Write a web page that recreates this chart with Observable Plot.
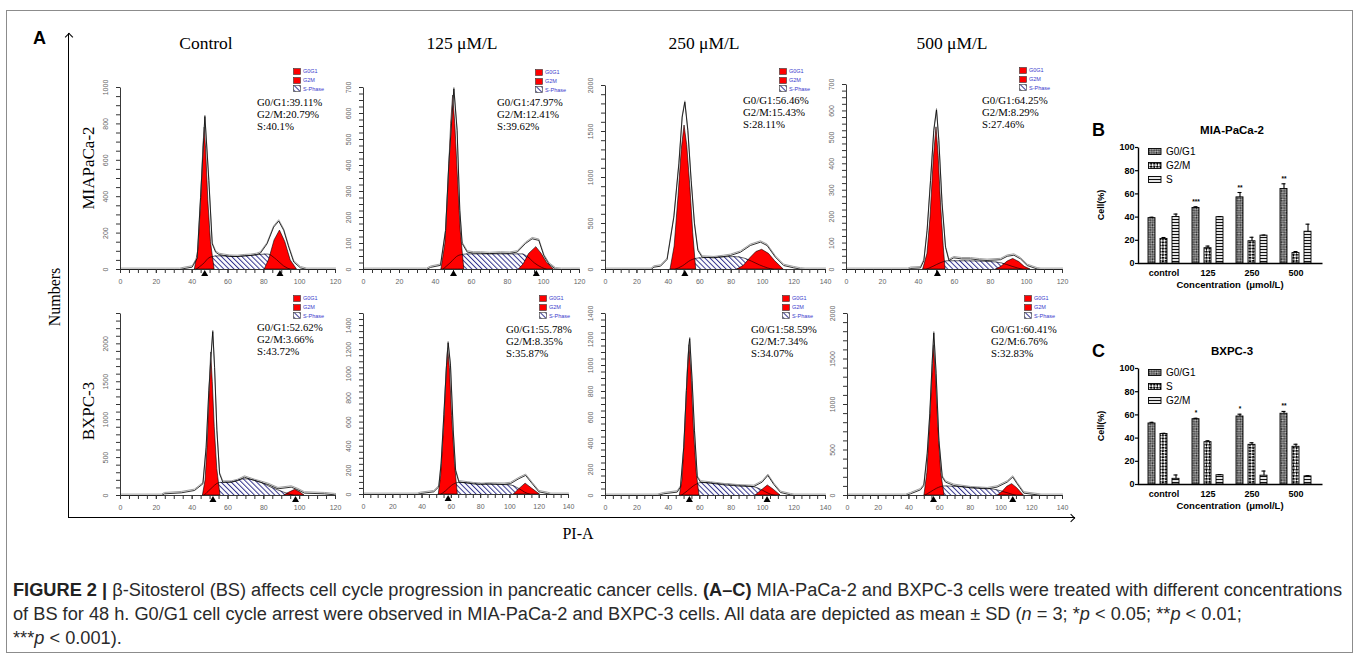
<!DOCTYPE html>
<html>
<head>
<meta charset="utf-8">
<script src="https://cdn.jsdelivr.net/npm/d3@7"></script>
<script src="https://cdn.jsdelivr.net/npm/@observablehq/plot@0.6"></script>
<style>
html,body{margin:0;padding:0;background:#fff;}
#root{position:relative;width:1357px;height:656px;overflow:hidden;background:#fff;font-family:"Liberation Sans",Arial,sans-serif;color:#000;}
.abs{position:absolute;}
.serif{font-family:"Liberation Serif","Times New Roman",serif;}
.rot{position:absolute;transform:translate(-50%,-50%) rotate(-90deg);white-space:nowrap;}
.ctr{position:absolute;transform:translate(-50%,-50%);white-space:nowrap;}
.stats{position:absolute;font-family:"Liberation Serif","Times New Roman",serif;font-size:10.8px;line-height:12.3px;white-space:nowrap;color:#000;}
.hleg{position:absolute;font-size:5.5px;color:#3a3acc;white-space:nowrap;}
.hleg div{display:flex;align-items:center;height:8.7px;}
.hleg svg{margin-right:2px;display:block;}
.bleg{position:absolute;font-size:10px;white-space:nowrap;}
.bleg div{display:flex;align-items:center;height:14px;}
.bleg svg{margin-right:4px;display:block;}
#caption{position:absolute;left:13px;top:578px;color:#2a2a2a;white-space:nowrap;line-height:24px;font-size:17px;}
#caption span{display:inline-block;}
</style>
</head>
<body>
<svg width="0" height="0" style="position:absolute;left:0;top:0">
<defs>
<pattern id="hatchS" patternUnits="userSpaceOnUse" width="3.6" height="3.6" patternTransform="rotate(-45)">
<rect width="3.6" height="3.6" fill="#fff"/>
<rect x="0" y="0" width="1" height="3.6" fill="#34348e"/>
</pattern>
<pattern id="fineCheck" patternUnits="userSpaceOnUse" width="2.4" height="2.4" patternTransform="rotate(45)">
<rect width="2.4" height="2.4" fill="#c0c0c0"/>
<rect width="1.2" height="1.2" fill="#2a2a2a"/><rect x="1.2" y="1.2" width="1.2" height="1.2" fill="#2a2a2a"/>
</pattern>
<pattern id="coarseCheck" patternUnits="userSpaceOnUse" width="4.4" height="4.4" patternTransform="rotate(45)">
<rect width="4.4" height="4.4" fill="#fff"/>
<rect width="2.2" height="2.2" fill="#000"/><rect x="2.2" y="2.2" width="2.2" height="2.2" fill="#000"/>
</pattern>
<pattern id="hStripe" patternUnits="userSpaceOnUse" width="4" height="3">
<rect width="4" height="3" fill="#e6e6e6"/>
<rect y="0" width="4" height="1" fill="#111"/>
</pattern>
</defs>
</svg>
<div id="root"></div>
<script>
// ===================== DATA =====================
const columnTitles = ["Control", "125 μM/L", "250 μM/L", "500 μM/L"];
const rowTitles = ["MIAPaCa-2", "BXPC-3"];
const histLegendLabels = ["G0G1", "G2M", "S-Phase"];

// MIA-PaCa-2, control  [PI-A, count]
const miaCtrlTotal = [[0,0],[33,0],[36,6],[40,13],[42.8,62],[44.7,397],[47.1,841],[49.3,489],[51.2,141],[53.1,95],[55,82],[57.7,77],[61,72],[65.2,71],[69,75],[72.6,77],[76,82],[78.1,90],[81.8,141],[85.5,233],[88.3,266],[91.1,215],[93.9,123],[96.7,41],[100.4,9],[104,0],[120,0]];
const miaCtrlG1 = [[41.5,0],[43.5,110],[45,380],[46.3,680],[47,780],[47.8,660],[49,380],[50.5,150],[52.5,0]];
const miaCtrlG2 = [[80.5,0],[83,55],[86,160],[89,214],[92,150],[95,50],[98.5,0]];
const miaCtrlS = [[42,0],[46,30],[50,68],[55,75],[65,72],[75,80],[82,85],[87,55],[91,20],[95,0]];
const miaCtrlPeaks = [47, 89];

// MIA-PaCa-2, 125
const mia125Total = [[0,0],[35,0],[37.2,8],[42.8,16],[45.6,150],[47.4,406],[50.2,695],[52,535],[53.5,227],[54.8,100],[57.6,67],[61,63],[65,63],[70,61],[76.1,63],[81,62],[85.4,67],[90,100],[93.7,118],[97.4,112],[100.2,53],[103,21],[106.7,2],[110,0],[120,0]];
const mia125G1 = [[43.3,0],[45.5,100],[47,300],[48.7,560],[49.8,669],[51,560],[52.5,350],[54,150],[56,0]];
const mia125G2 = [[86.3,0],[89,20],[92,60],[96,86],[99,60],[102,25],[105.8,0]];
const mia125S = [[44,0],[48,25],[53,55],[58,60],[75,60],[88,60],[91,50],[95,25],[99,8],[102,0]];
const mia125Peaks = [50, 96];

// MIA-PaCa-2, 250
const mia250Total = [[0,0],[29,0],[30.8,25],[35,36],[39.2,109],[43.5,569],[46.7,1149],[48.8,1656],[50.5,1819],[52.4,1510],[54.5,967],[56.6,496],[58.8,207],[61.5,134],[68.9,127],[75,140],[79.5,152],[85.9,188],[92.2,261],[98.6,297],[102.8,261],[108.1,134],[113.4,43],[119.8,18],[124,4],[127,0],[140,0]];
const mia250G1 = [[41.4,0],[44,250],[46.5,800],[48.5,1300],[50.3,1565],[52,1350],[54,900],[55.8,400],[57.7,0]];
const mia250G2 = [[83.8,0],[88,40],[92,120],[96,190],[99.7,214],[104,170],[108,90],[113.4,0]];
const mia250S = [[44,0],[49,40],[54,100],[59,125],[70,135],[82,140],[88,125],[93,90],[98,50],[103,18],[107,0]];
const mia250Peaks = [50.5];

// MIA-PaCa-2, 500
const mia500Total = [[0,0],[34,0],[35.6,4],[41.1,6],[43,34],[44.8,148],[46.7,337],[48.5,526],[50,604],[51.3,488],[53.1,248],[55,84],[56.9,34],[59.6,44],[64,40],[68.9,40],[74,36],[78.1,34],[85.6,37],[89.3,50],[93,54],[96.7,40],[100.4,15],[105.9,2],[108,0],[120,0]];
const mia500G1 = [[42.6,0],[45,60],[46.7,200],[48.5,420],[50,538],[51.2,430],[52.5,250],[54,90],[55,0]];
const mia500G2 = [[83.1,0],[86,10],[89.5,30],[92.6,40],[96,28],[99,10],[102.2,0]];
const mia500S = [[44,0],[48,12],[52,25],[56,33],[65,33],[80,30],[86,25],[92,12],[98,0]];
const mia500Peaks = [50.5];

// BXPC-3, control
const bxCtrlTotal = [[0,0],[22.8,0],[24.6,22],[33.9,35],[41.3,66],[46,154],[47.8,636],[49.3,1382],[50.6,1864],[51.5,2162],[52.5,1688],[53.8,855],[55.3,285],[57.1,175],[61.8,175],[65.5,197],[69.2,241],[74.8,197],[82.3,145],[87.9,88],[95.3,110],[99,75],[102.7,31],[113.8,22],[119.4,9],[120,8]];
const bxCtrlG1 = [[46,0],[47.5,200],[48.7,700],[49.8,1400],[50.6,1886],[51.5,1500],[52.6,900],[54,350],[55.8,0]];
const bxCtrlG2 = [[91.5,0],[94,35],[97.5,75],[100,45],[102.7,0]];
const bxCtrlS = [[46.5,0],[50,80],[55,170],[62,180],[69,220],[76,195],[84,110],[91,45],[97,0]];
const bxCtrlPeaks = [51.6, 97.7];

// BXPC-3, 125
const bx125Total = [[0,0],[36.7,0],[38.9,8],[48,22],[51.4,63],[53,254],[54.9,663],[56.7,1072],[57.8,1258],[59.4,1072],[61.3,527],[62.9,199],[65.1,104],[70.8,95],[75,88],[79.9,82],[85,86],[91.3,85],[96,84],[100.4,90],[106.1,131],[110.7,158],[115.2,90],[119.8,22],[125.5,8],[128,0],[140,0]];
const bx125G1 = [[51.4,0],[53,150],[55,550],[56.7,1000],[57.8,1209],[59,1050],[60.5,650],[62.5,250],[64.4,0]];
const bx125G2 = [[102.7,0],[106,40],[110.7,90],[115,50],[120.5,0]];
const bx125S = [[52.5,0],[56,30],[60,75],[65,100],[75,95],[90,85],[100,80],[106,50],[110,20],[114,0]];
const bx125Peaks = [57.8];

// BXPC-3, 250
const bx250Total = [[0,0],[32.9,0],[37.1,13],[45.6,26],[47.7,64],[49.8,372],[51.5,809],[53,1143],[53.6,1207],[55.1,886],[56.6,501],[58.4,141],[60.5,103],[66.8,95],[75.3,82],[85.9,72],[94.4,69],[99.7,103],[103.3,154],[107.1,85],[111.4,23],[117.7,5],[120,0],[140,0]];
const bx250G1 = [[47.3,0],[49,120],[50.7,500],[52.3,950],[53.4,1156],[54.7,950],[56.3,500],[58,180],[59.8,0]];
const bx250G2 = [[95.5,0],[99,35],[103.3,77],[107,45],[111.4,0]];
const bx250S = [[48,0],[52,35],[56,75],[61,100],[70,95],[85,80],[95,65],[100,40],[104,15],[108,0]];
const bx250Peaks = [53.4, 102.8];

// BXPC-3, 500
const bx500Total = [[0,0],[37.8,0],[41,18],[47.5,62],[49.7,110],[51.9,459],[53.6,899],[55.1,1450],[56.2,1787],[57.7,1340],[59.5,606],[61.7,202],[63.8,147],[69.2,110],[80.1,84],[91,73],[97.4,92],[104,147],[107.6,202],[110.5,128],[114.8,26],[123.5,7],[126,0],[140,0]];
const bx500G1 = [[50.1,0],[52,250],[53.8,800],[55.4,1350],[56.4,1651],[57.5,1350],[59.2,750],[61,250],[63.2,0]];
const bx500G2 = [[97.9,0],[101,40],[104,95],[107.2,125],[110.5,80],[114.8,0]];
const bx500S = [[50,0],[54,40],[58,80],[63,105],[70,100],[85,85],[95,70],[100,50],[105,25],[110,0]];
const bx500Peaks = [56, 107.6];

// percentages printed in each histogram
const pctG1 = ["39.11","47.97","56.46","64.25","52.62","55.78","58.59","60.41"];
const pctG2M = ["20.79","12.41","15.43","8.29","3.66","8.35","7.34","6.76"];
const pctS = ["40.1","39.62","28.11","27.46","43.72","35.87","34.07","32.83"];

// bar charts
const concLabels = ["control", "125", "250", "500"];
const miaSeries = ["G0/G1", "G2/M", "S"];
const miaG1 = [39.1, 47.9, 57.0, 64.2];
const miaG1Err = [0.8, 1.0, 4.2, 4.5];
const miaG2M = [21.2, 13.2, 19.2, 9.0];
const miaG2MErr = [1.2, 1.8, 3.4, 1.3];
const miaS = [40.1, 39.9, 24.0, 27.4];
const miaSErr = [2.5, 0.6, 0.5, 6.5];
const miaStars = ["", "***", "**", "**"];
const bxSeries = ["G0/G1", "S", "G2/M"];
const bxG1 = [52.6, 56.3, 58.6, 61.0];
const bxG1Err = [1.0, 0.8, 2.0, 2.0];
const bxS = [43.5, 36.5, 34.2, 32.5];
const bxSErr = [0.6, 1.2, 1.8, 2.2];
const bxG2M = [4.9, 8.0, 7.6, 7.0];
const bxG2MErr = [3.3, 0.5, 4.0, 0.6];
const bxStars = ["", "*", "*", "**"];

// ===================== LAYOUT =====================
const histTotals = [miaCtrlTotal, mia125Total, mia250Total, mia500Total, bxCtrlTotal, bx125Total, bx250Total, bx500Total];
const histG1 = [miaCtrlG1, mia125G1, mia250G1, mia500G1, bxCtrlG1, bx125G1, bx250G1, bx500G1];
const histG2 = [miaCtrlG2, mia125G2, mia250G2, mia500G2, bxCtrlG2, bx125G2, bx250G2, bx500G2];
const histS = [miaCtrlS, mia125S, mia250S, mia500S, bxCtrlS, bx125S, bx250S, bx500S];
const histPeaks = [miaCtrlPeaks, mia125Peaks, mia250Peaks, mia500Peaks, bxCtrlPeaks, bx125Peaks, bx250Peaks, bx500Peaks];

const histBoxes = [
  {left:120, top:87, w:215, h:182, xmax:120, ymax:1000, yLab:200, yMin:50},
  {left:363, top:87, w:216, h:182, xmax:120, ymax:700, yLab:100, yMin:25},
  {left:605, top:85, w:220, h:184, xmax:140, ymax:2000, yLab:500, yMin:100},
  {left:846, top:84, w:216, h:185, xmax:120, ymax:700, yLab:100, yMin:25},
  {left:120, top:313, w:215, h:182, xmax:120, ymax:2400, yLab:500, yMin:100},
  {left:363, top:313, w:205, h:181, xmax:140, ymax:1500, yLab:200, yMin:50},
  {left:605, top:313, w:220, h:182, xmax:140, ymax:1400, yLab:200, yMin:50},
  {left:847, top:313, w:215, h:182, xmax:140, ymax:2000, yLab:500, yMin:100}
];
const statPos = [[257,102],[497,102],[743,100],[982,100],[257,327],[506,329],[751,329],[991,329]];
const legendPos = [[293,68],[535,69],[779,68],[1019,67],[293,295],[539,295],[782,295],[1024,295]];
const colTitlePos = [206, 462, 704, 952];

const root = document.getElementById("root");
const add = (html) => root.insertAdjacentHTML("beforeend", html);
const place = (el, left, top) => { el.style.position = "absolute"; el.style.left = left + "px"; el.style.top = top + "px"; root.appendChild(el); };
const pts = (a) => a.map(([x, y]) => ({x, y}));

// frame border and big axes
add(`<div class="abs" style="left:6px;top:10px;width:1345px;height:641px;border:1px solid #8c8c8c"></div>`);
add(`<div class="abs" style="left:68px;top:33px;width:1006px;height:484px;border-left:1px solid #000;border-bottom:1px solid #000"></div>`);
add(`<div class="abs" style="left:65.5px;top:34px;width:5px;height:5px;border-left:1px solid #000;border-top:1px solid #000;transform:rotate(45deg)"></div>`);
add(`<div class="abs" style="left:1068px;top:514.5px;width:5px;height:5px;border-right:1px solid #000;border-top:1px solid #000;transform:rotate(45deg)"></div>`);
add(`<div class="abs" style="left:33px;top:28px;font-weight:bold;font-size:18px">A</div>`);
add(`<div class="rot serif" style="left:55px;top:297px;font-size:16px">Numbers</div>`);
add(`<div class="ctr serif" style="left:578px;top:534px;font-size:16px">PI-A</div>`);
columnTitles.forEach((t, i) => add(`<div class="ctr serif" style="left:${colTitlePos[i]}px;top:43px;font-size:17.5px">${t}</div>`));
add(`<div class="rot serif" style="left:89px;top:168px;font-size:17px">${rowTitles[0]}</div>`);
add(`<div class="rot serif" style="left:89px;top:411px;font-size:17px">${rowTitles[1]}</div>`);

function histogram(i) {
  const b = histBoxes[i];
  const mL = 34, mR = 6, mT = 6, mB = 24;
  const svg = Plot.plot({
    width: b.w + mL + mR, height: b.h + mT + mB,
    marginLeft: mL, marginRight: mR, marginTop: mT, marginBottom: mB,
    style: {background: "transparent", overflow: "visible", fontFamily: "Liberation Sans, Arial, sans-serif"},
    x: {domain: [0, b.xmax]},
    y: {domain: [0, b.ymax]},
    marks: [
      Plot.areaY(pts(histS[i]), {x: "x", y: "y", fill: "url(#hatchS)", curve: "monotone-x"}),
      Plot.areaY(pts(histG1[i]), {x: "x", y: "y", fill: "#ff0000", stroke: "#000", strokeWidth: 0.6}),
      Plot.areaY(pts(histG2[i]), {x: "x", y: "y", fill: "#ff0000", stroke: "#000", strokeWidth: 0.6}),
      Plot.line(pts(histS[i]), {x: "x", y: "y", stroke: "#000", strokeWidth: 0.6, curve: "monotone-x"}),
      Plot.line(pts(histTotals[i]), {x: "x", y: "y", stroke: "#a0a0a0", strokeWidth: 1, dy: -1.4}),
      Plot.line(pts(histTotals[i]), {x: "x", y: "y", stroke: "#000", strokeWidth: 0.8}),
      Plot.frame({stroke: "#222", strokeWidth: 0.9, strokeDasharray: `0 ${b.w + b.h} ${b.w + b.h}`}),
      Plot.axisX({ticks: d3.range(0, b.xmax + 0.01, 5), tickSize: 4, tickFormat: () => "", label: null, stroke: "#333"}),
      Plot.axisX({ticks: d3.range(0, b.xmax + 0.01, 20), tickSize: 4, tickPadding: 6, fontSize: 7, fill: "#666", label: null, stroke: "#333"}),
      Plot.axisY({ticks: d3.range(0, b.ymax + 0.01, b.yMin), tickSize: 4, tickFormat: () => "", label: null, stroke: "#333"}),
      Plot.text(d3.range(0, b.ymax + 0.01, b.yLab), {y: (d) => d, frameAnchor: "left", dx: -15, rotate: -90, text: (d) => String(d), fontSize: 7, fill: "#666", textAnchor: "middle"}),
      Plot.dot(histPeaks[i], {x: (d) => d, y: () => 0, symbol: "triangle", r: 2.6, fill: "#000", dy: 4.5})
    ]
  });
  place(svg, b.left - mL, b.top - mT);

  const [lx, ly] = legendPos[i];
  const sw = (fill) => `<svg width="8" height="7"><rect x="0.5" y="0.5" width="7" height="6" fill="${fill}" stroke="#333" stroke-width="0.6"/></svg>`;
  const fills = ["#ff0000", "#ff0000", "url(#hatchS)"];
  add(`<div class="hleg" style="left:${lx}px;top:${ly - 1}px">${histLegendLabels.map((t, k) => `<div>${sw(fills[k])}${t}</div>`).join("")}</div>`);
  const [sx, sy] = statPos[i];
  add(`<div class="stats" style="left:${sx}px;top:${sy - 6.5}px">G0/G1:${pctG1[i]}%<br>G2/M:${pctG2M[i]}%<br>S:${pctS[i]}%</div>`);
}
for (let i = 0; i < 8; i++) histogram(i);

// ---------- bar charts ----------
const barBoxes = [{left:1138, top:147, w:184, h:116}, {left:1138, top:368, w:184, h:116}];
const barPatterns = ["fineCheck", "coarseCheck", "hStripe"];
const barSets = [
  {names: miaSeries, vals: [miaG1, miaG2M, miaS], errs: [miaG1Err, miaG2MErr, miaSErr], stars: miaStars, letter: "B", title: "MIA-PaCa-2"},
  {names: bxSeries, vals: [bxG1, bxS, bxG2M], errs: [bxG1Err, bxSErr, bxG2MErr], stars: bxStars, letter: "C", title: "BXPC-3"}
];
function barChart(k) {
  const b = barBoxes[k], set = barSets[k];
  const mL = 28, mR = 6, mT = 12, mB = 18, sub = 12;
  const marks = [];
  set.vals.forEach((vals, i) => {
    const rows = concLabels.map((c, j) => ({cat: c, v: vals[j], e: set.errs[i][j], star: i === 0 ? set.stars[j] : ""}));
    marks.push(Plot.barY(rows, {x: "cat", y: "v", fill: `url(#${barPatterns[i]})`, stroke: "#000", strokeWidth: 0.9, insetLeft: i * sub, insetRight: (2 - i) * sub}));
    marks.push(Plot.ruleX(rows, {x: "cat", y1: "v", y2: (d) => d.v + d.e, dx: (i - 1) * sub, stroke: "#000", strokeWidth: 1.1}));
    marks.push(Plot.tickY(rows, {x: "cat", y: (d) => d.v + d.e, insetLeft: i * sub + 1.5, insetRight: (2 - i) * sub + 1.5, stroke: "#000", strokeWidth: 1.1}));
    marks.push(Plot.text(rows.filter((d) => d.star), {x: "cat", y: (d) => d.v + d.e, text: "star", dx: (i - 1) * sub, dy: -3, fontSize: 6.5, fontWeight: "bold", lineAnchor: "bottom"}));
  });
  marks.push(Plot.frame({stroke: "#000", strokeWidth: 1.4, strokeDasharray: `0 ${b.w + b.h} ${b.w + b.h}`}));
  marks.push(Plot.axisY({ticks: d3.range(0, 101, 20), tickSize: 3, tickPadding: 1, fontSize: 9, fontWeight: "bold", label: null, strokeWidth: 1.2}));
  marks.push(Plot.axisX({tickSize: 0, tickPadding: 6, fontSize: 9, fontWeight: "bold", label: null}));
  const svg = Plot.plot({
    width: b.w + mL + mR, height: b.h + mT + mB,
    marginLeft: mL, marginRight: mR, marginTop: mT, marginBottom: mB,
    style: {background: "transparent", overflow: "visible", fontFamily: "Liberation Sans, Arial, sans-serif", color: "#000"},
    x: {domain: concLabels, paddingInner: 0.29, paddingOuter: 0.19},
    y: {domain: [0, 100]},
    marks
  });
  place(svg, b.left - mL, b.top - mT);

  add(`<div class="abs" style="left:1092px;top:${b.top - 27}px;font-weight:bold;font-size:18px">${set.letter}</div>`);
  add(`<div class="ctr" style="left:1232px;top:${b.top - 17}px;font-weight:bold;font-size:11.5px">${set.title}</div>`);
  add(`<div class="rot" style="left:1101px;top:${b.top + 58}px;font-weight:bold;font-size:9px">Cell(%)</div>`);
  add(`<div class="ctr" style="left:1230px;top:${b.top + b.h + 21}px;font-weight:bold;font-size:9.5px">Concentration&nbsp;&nbsp;(μmol/L)</div>`);
  const sw = (p) => `<svg width="14" height="7"><rect x="0.5" y="0.5" width="12.5" height="6" fill="url(#${p})" stroke="#000" stroke-width="0.9"/></svg>`;
  add(`<div class="bleg" style="left:1148px;top:${b.top - 2.5}px">${set.names.map((n, i) => `<div>${sw(barPatterns[i])}${n}</div>`).join("")}</div>`);
}
barChart(0);
barChart(1);

// ---------- caption ----------
add(`<div id="caption">
<div><span id="capL1"><b style="color:#222">FIGURE 2 |</b> β-Sitosterol (BS) affects cell cycle progression in pancreatic cancer cells. <b style="color:#222">(A–C)</b> MIA-PaCa-2 and BXPC-3 cells were treated with different concentrations</span></div>
<div>of BS for 48 h. G0/G1 cell cycle arrest were observed in MIA-PaCa-2 and BXPC-3 cells. All data are depicted as mean ± SD (<i>n</i> = 3; *<i>p</i> &lt; 0.05; **<i>p</i> &lt; 0.01;</div>
<div>***<i>p</i> &lt; 0.001).</div>
</div>`);
const cap = document.getElementById("caption");
const l1w = document.getElementById("capL1").getBoundingClientRect().width;
if (l1w > 0) cap.style.fontSize = (17 * 1330 / l1w).toFixed(2) + "px";
</script>
</body>
</html>
